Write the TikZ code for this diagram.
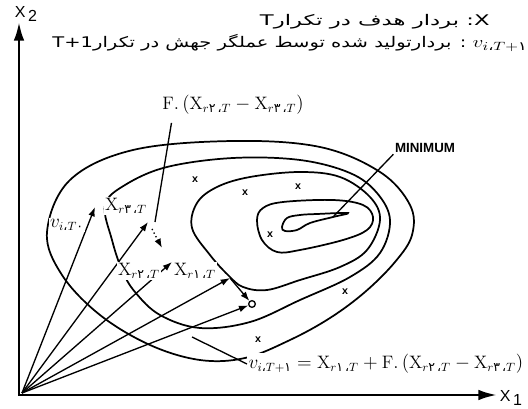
\documentclass[tikz,border=0pt]{standalone}
\usepackage{amsmath}
\usepackage{fontspec}
\setsansfont{Liberation Sans}
\newfontfamily\arabicfont[Script=Arabic]{DejaVu Sans}
\TeXXeTstate=1
\usetikzlibrary{arrows.meta}
\newcommand{\fa}[1]{\text{\arabicfont #1}}

\begin{document}
\begin{tikzpicture}[x=0.75pt, y=-0.75pt,
  contour/.style={line width=1.3pt, smooth cycle, tension=0.6},
  ray/.style={line width=1pt, -{Latex[length=7pt,width=5pt]}},
  axis/.style={line width=2pt, {Latex[length=14pt,width=8pt]}-{Latex[length=14pt,width=8pt]}},
  pointer/.style={line width=1pt},
  lbl/.style={font=\fontsize{13.5}{15}\selectfont, inner sep=1pt, fill=white},
  hdr/.style={font=\arabicfont\fontsize{11}{13}\selectfont, inner sep=0pt},
  xmk/.style={font=\sffamily\bfseries\footnotesize, inner sep=0pt},
  axlbl/.style={font=\sffamily\large, inner sep=0pt}]
  \useasboundingbox (0,0) rectangle (528,409);

  % Header
  \node[hdr, anchor=east, xscale=1.55] (hdr1) at (490,22) {\beginR\beginL X\endL: بردار هدف در تکرار\beginL T\endL\endR};
  \node[hdr, anchor=east, xscale=1.33] (hdr2) at (528,43) {\beginR\beginL{\fontsize{13}{13}\selectfont$v_{i\fa{،}T+\fa{۱}}$}\endL\ : بردارتولید شده توسط عملگر جهش در تکرار\beginL T+1\endL\endR};

  % Contour lines
  \draw[contour] plot coordinates {(47,232) (70,180) (133,150) (233,141) (320,147) (380,172) (410,205) (412,235) (395,262) (365,292) (330,318) (290,340) (245,358) (200,360) (150,345) (100,315) (62,275)};
  \draw[contour] plot coordinates {(105,205) (112,240) (122,270) (135,292) (160,315) (200,328) (250,322) (300,300) (350,277) (380,253) (390,220) (377,193) (350,173) (300,160) (233,158) (167,167) (125,185)};
  \draw[contour] plot coordinates {(210,255) (192,228) (197,203) (217,187) (250,177) (300,172) (340,177) (370,197) (380,220) (367,250) (340,267) (300,280) (267,290) (243,287) (228,275)};
  \draw[contour] plot coordinates {(257,220) (263,208) (283,202) (333,200) (363,205) (373,217) (367,230) (343,240) (300,250) (277,252) (262,240)};
  \draw[contour] plot coordinates {(282,227) (287,218) (300,215) (317,214) (348,213) (333,217) (310,223) (297,230) (285,231)};

  % Axes
  \coordinate (O) at (19,395);
  \coordinate (xend) at (497,395);
  \coordinate (yend) at (19,22);
  \draw[axis] (yend) -- (O) -- (xend);
  \node[axlbl] (x1lbl) at (511,398) {X\,\raisebox{-3pt}{1}};
  \node[axlbl] (x2lbl) at (26,14) {X\,\raisebox{-3pt}{2}};

  % Vectors from the origin
  \coordinate (src) at (22,393);
  \coordinate (vT) at (95,207);
  \coordinate (xr3) at (148,222);
  \coordinate (xr1) at (172,262);
  \coordinate (pa) at (230,278);
  \node[circle, draw, line width=1pt, inner sep=0pt, minimum size=5pt] (vdot) at (252,304) {};
  \draw[ray] (src) -- (vT);
  \draw[ray] (src) -- (xr3);
  \draw[ray] (src) -- (xr1);
  \draw[ray] (src) -- (pa);
  \draw[ray] (src) -- (vdot);
  \draw[ray] (pa) -- (vdot);
  \coordinate (fs) at (152,229);
  \coordinate (fe) at (162,248);
  \draw[ray, dotted] (fs) -- (fe);

  % Labels
  \node[lbl] (vTlbl) at (67,225) {$v_{i\fa{،}T\fa{۰}}$};
  \node[lbl] (xr3lbl) at (126,206) {$\mathrm{X}_{r\fa{۳}\,\fa{،}T}$};
  \node[lbl] (xr2lbl) at (139,271) {$\mathrm{X}_{r\fa{۲}\,\fa{،}T}$};
  \node[lbl] (xr1lbl) at (195,271) {$\mathrm{X}_{r\fa{۱}\,\fa{،}T}$};
  \node[lbl] (flbl) at (233,105) {$\mathrm{F}.\,(\mathrm{X}_{r\fa{۲}\,\fa{،}T}-\mathrm{X}_{r\fa{۳}\,\fa{،}T})$};
  \node[lbl, anchor=west] (vform) at (247,364) {$v_{i\fa{،}T+\fa{۱}}=\mathrm{X}_{r\fa{۱}\,\fa{،}T}+\mathrm{F}.\,(\mathrm{X}_{r\fa{۲}\,\fa{،}T}-\mathrm{X}_{r\fa{۳}\,\fa{،}T})$};
  \node[font=\sffamily\bfseries, inner sep=1pt] (minlbl) at (425,148) {MINIMUM};

  % Pointers
  \coordinate (fp) at (155,222);
  \coordinate (minpt) at (333,217);
  \coordinate (vp) at (192,337);
  \draw[pointer] ([xshift=8pt,yshift=-5pt]flbl.south west) -- (fp);
  \draw[pointer] (minlbl.south west) -- (minpt);
  \draw[pointer] (vform.west) -- (vp);

  % Sample points
  \node[xmk] (m1) at (195,180) {x};
  \node[xmk] (m2) at (245,193) {x};
  \node[xmk] (m3) at (298,187) {x};
  \node[xmk] (m4) at (270,235) {x};
  \node[xmk] (m5) at (345,292) {x};
  \node[xmk] (m6) at (258,340) {x};
\end{tikzpicture}
\end{document}
